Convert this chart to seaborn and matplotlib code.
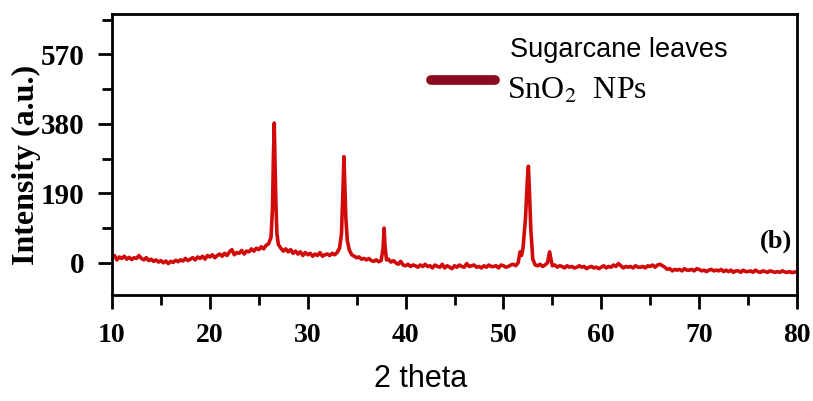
import matplotlib
matplotlib.use("Agg")
import matplotlib.pyplot as plt
from matplotlib.lines import Line2D
from matplotlib.ticker import MultipleLocator
import seaborn as sns
import pandas as pd

two_theta = [
    10.0, 10.25, 10.5, 10.75, 11.0, 11.25, 11.5, 11.75, 12.0, 12.25, 12.5, 12.75,
    13.0, 13.25, 13.5, 13.75, 14.0, 14.25, 14.5, 14.75, 15.0, 15.25, 15.5, 15.75,
    16.0, 16.25, 16.5, 16.75, 17.0, 17.25, 17.5, 17.75, 18.0, 18.25, 18.5, 18.75,
    19.0, 19.25, 19.5, 19.75, 20.0, 20.25, 20.5, 20.75, 21.0, 21.25, 21.5, 21.75,
    22.0, 22.25, 22.5, 22.75, 23.0, 23.25, 23.5, 23.75, 24.0, 24.25, 24.5, 24.75,
    25.0, 25.25, 25.5, 25.75, 26.0, 26.25, 26.4, 26.5, 26.58, 26.65, 26.75, 26.85,
    27.0, 27.25, 27.5, 27.75, 28.0, 28.25, 28.5, 28.75, 29.0, 29.25, 29.5, 29.75,
    30.0, 30.25, 30.5, 30.75, 31.0, 31.25, 31.5, 31.75, 32.0, 32.25, 32.5, 32.75,
    33.0, 33.25, 33.45, 33.6, 33.7, 33.78, 33.9, 34.05, 34.25, 34.5, 34.75,
    35.0, 35.25, 35.5, 35.75, 36.0, 36.25, 36.5, 36.75, 37.0, 37.25, 37.5, 37.7,
    37.8, 37.9, 38.05, 38.25, 38.5, 38.75, 39.0, 39.25, 39.5, 39.75,
    40.0, 40.25, 40.5, 40.75, 41.0, 41.25, 41.5, 41.75, 42.0, 42.25, 42.5, 42.75,
    43.0, 43.25, 43.5, 43.75, 44.0, 44.25, 44.5, 44.75, 45.0, 45.25, 45.5, 45.75,
    46.0, 46.25, 46.5, 46.75, 47.0, 47.25, 47.5, 47.75, 48.0, 48.25, 48.5, 48.75,
    49.0, 49.25, 49.5, 49.75, 50.0, 50.25, 50.5, 50.75, 51.0, 51.25, 51.5, 51.7,
    51.85, 52.0, 52.25, 52.45, 52.55, 52.65, 52.8, 53.0, 53.25, 53.5, 53.75,
    54.0, 54.25, 54.5, 54.72, 54.9, 55.0, 55.25, 55.5, 55.75,
    56.0, 56.25, 56.5, 56.75, 57.0, 57.25, 57.5, 57.75, 58.0, 58.25, 58.5, 58.75,
    59.0, 59.25, 59.5, 59.75, 60.0, 60.25, 60.5, 60.75, 61.0, 61.25, 61.5, 61.75,
    62.0, 62.25, 62.5, 62.75, 63.0, 63.25, 63.5, 63.75, 64.0, 64.25, 64.5, 64.75,
    65.0, 65.25, 65.5, 65.75, 66.0, 66.25, 66.5, 66.75, 67.0, 67.25, 67.5, 67.75,
    68.0, 68.25, 68.5, 68.75, 69.0, 69.25, 69.5, 69.75, 70.0, 70.25, 70.5, 70.75,
    71.0, 71.25, 71.5, 71.75, 72.0, 72.25, 72.5, 72.75, 73.0, 73.25, 73.5, 73.75,
    74.0, 74.25, 74.5, 74.75, 75.0, 75.25, 75.5, 75.75, 76.0, 76.25, 76.5, 76.75,
    77.0, 77.25, 77.5, 77.75, 78.0, 78.25, 78.5, 78.75, 79.0, 79.25, 79.5, 79.75,
    80.0,
]
intensity = [
    14, 20, 8, 16, 12, 18, 10, 15, 9, 14, 12, 20,
    12, 8, 14, 6, 10, 4, 8, 2, 6, 0, 5, -2,
    4, 1, 7, 3, 8, 5, 12, 6, 10, 14, 8, 16,
    12, 18, 10, 20, 16, 22, 14, 20, 24, 18, 26, 20,
    30, 36, 22, 28, 26, 34, 24, 32, 30, 38, 32, 40,
    36, 44, 38, 48, 52, 70, 150, 300, 382, 280, 160, 80,
    50, 40, 32, 38, 30, 36, 26, 32, 24, 30, 20, 28,
    22, 26, 18, 24, 20, 28, 18, 22, 24, 20, 26, 22,
    28, 40, 80, 200, 290, 220, 120, 60, 35, 22, 18,
    14, 16, 10, 12, 8, 12, 6, 4, 8, 3, 6, 40,
    95, 45, 8, 10, 2, 6, 0, -4, 4, -6,
    -8, -4, -10, -6, -8, -12, -6, -10, -4, -10, -8, -14,
    -6, -10, -12, -4, -14, -8, -12, -16, -8, -12, -6, -10,
    -12, -2, -10, -8, -6, -12, -10, -14, -8, -12, -6, -10,
    -10, -8, -14, -6, -8, -12, -10, -6, -4, -8, 0, 30,
    20, 40, 120, 230, 264, 200, 90, 10, -6, -8, -4,
    -10, -6, 0, 30, 4, -8, -6, -12, -8,
    -10, -14, -8, -12, -10, -14, -12, -8, -12, -10, -16, -12,
    -10, -14, -12, -16, -12, -8, -14, -10, -12, -6, -10, -2,
    -8, -14, -10, -12, -10, -14, -8, -12, -12, -10, -14, -8,
    -10, -6, -12, -6, -4, -8, -12, -18, -16, -22, -18, -20,
    -18, -22, -16, -20, -20, -18, -22, -16, -18, -22, -20, -24,
    -20, -18, -22, -20, -22, -18, -24, -20, -24, -20, -26, -22,
    -22, -26, -20, -24, -24, -22, -26, -20, -24, -26, -22, -24,
    -26, -22, -24, -26, -24, -26, -22, -25, -26, -24, -27, -25,
    -25,
]
y_ticks = [0, 190, 380, 570]
x_ticks = [10, 20, 30, 40, 50, 60, 70, 80]

df = pd.DataFrame({"two_theta": two_theta, "intensity": intensity})

sns.set_style("white")
plt.rcParams["font.family"] = ["DejaVu Sans"]
plt.rcParams["text.color"] = "black"
plt.rcParams["axes.labelcolor"] = "black"
plt.rcParams["xtick.color"] = "black"
plt.rcParams["ytick.color"] = "black"

fig = plt.figure(figsize=(8.13, 4.01), dpi=100)
ax = fig.add_axes([0.1378, 0.2643, 0.8425, 0.7007])

sns.lineplot(data=df, x="two_theta", y="intensity", ax=ax,
             color="#d10a0a", linewidth=2.6, legend=False)

ax.set_xlim(10, 80)
ax.set_ylim(-88, 680)
ax.set_xticks(x_ticks)
ax.set_yticks(y_ticks)
ax.xaxis.set_minor_locator(MultipleLocator(5))
ax.yaxis.set_minor_locator(MultipleLocator(95))

ax.tick_params(axis="both", which="major", direction="out", length=10, width=2,
               bottom=True, left=True, colors="black")
ax.tick_params(axis="x", which="major", pad=10)
ax.tick_params(axis="y", which="major", pad=10)
ax.tick_params(axis="both", which="minor", direction="out", length=7, width=2,
               bottom=True, left=True, colors="black")
for s in ax.spines.values():
    s.set_linewidth(2)
    s.set_color("black")

serif_bold = dict(family="Liberation Serif", weight="bold")
for lab in ax.get_xticklabels():
    lab.set_fontfamily("Liberation Serif")
    lab.set_fontweight("bold")
    lab.set_fontsize(20)
for lab in ax.get_yticklabels():
    lab.set_fontfamily("Liberation Serif")
    lab.set_fontweight("bold")
    lab.set_fontsize(21)

ax.set_xlabel("2 theta", family="Liberation Sans", fontsize=22)
ax.xaxis.set_label_coords(0.451, -0.245)
ax.set_ylabel("Intensity (a.u.)", fontsize=23, **serif_bold)
ax.yaxis.set_label_coords(-0.104, 0.463)

# legend handle and texts
handle = Line2D([], [], color="#8b0a1e", linewidth=7, solid_capstyle="round")
ax.legend(handles=[handle], labels=[""], loc="center", frameon=False,
          bbox_to_anchor=(0.513, 0.762), handlelength=4.6, borderpad=0,
          handletextpad=0)
ax.text(0.581, 0.872, "Sugarcane leaves", transform=ax.transAxes,
        family="Liberation Sans", fontsize=19.5, ha="left", va="center")
ax.text(0.576, 0.725, "SnO$_2$  NPs", transform=ax.transAxes,
        family="Liberation Serif", fontsize=23, ha="left", va="center",
        math_fontfamily="stix")
ax.text(0.993, 0.192, "(b)", transform=ax.transAxes, fontsize=19,
        ha="right", va="center", **serif_bold)

fig.savefig("out.png", dpi=100)
